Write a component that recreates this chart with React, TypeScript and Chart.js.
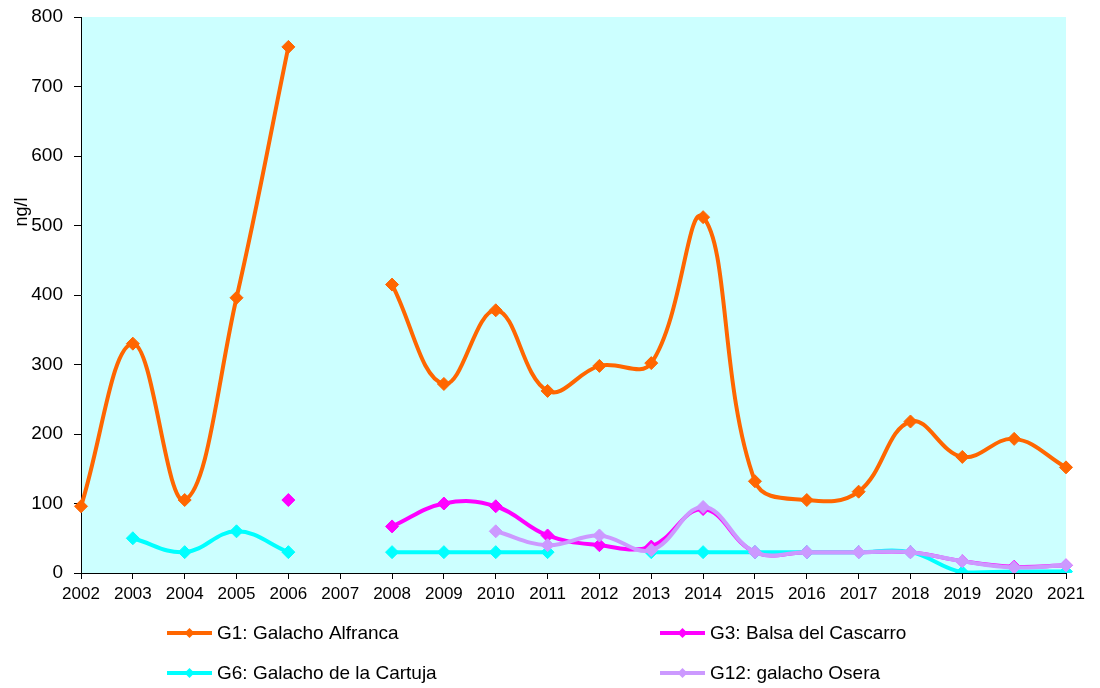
import React, { useEffect, useRef } from "react";
import { Chart, registerables } from "chart.js";

Chart.register(...registerables);

const years = ["2002","2003","2004","2005","2006","2007","2008","2009","2010","2011","2012","2013","2014","2015","2016","2017","2018","2019","2020","2021"];

const g1Alfranca = [96, 330, 105, 396, 757, null, 415, 272, 378, 262, 298, 302, 512, 132, 105, 117, 218, 167, 193, 152];
const g3Cascarro = [null, null, null, null, 105, null, 67, 100, 96, 54, 40, 38, 92, 30, 30, 30, 30, 17, 9, 11];
const g6Cartuja = [null, 50, 30, 60, 30, null, 30, 30, 30, 30, null, 30, 30, 30, 30, 30, 30, 1, 2, 2];
const g12Osera = [null, null, null, null, null, null, null, null, 60, 40, 54, 33, 95, 30, 30, 30, 30, 17, 8, 11];

const seriesNames = ["G1: Galacho Alfranca", "G3: Balsa del Cascarro", "G6: Galacho de la Cartuja", "G12: galacho Osera"];
const seriesColors = ["#FF6600", "#FF00FF", "#00FFFF", "#CC99FF"];
const yTitle = "ng/l";

const FONT = "'Liberation Sans', Arial, sans-serif";

const bgPlugin = {
  id: "plotBg",
  beforeDraw(chart: any) {
    const { ctx, chartArea } = chart;
    ctx.save();
    ctx.fillStyle = "#CCFFFF";
    ctx.fillRect(chartArea.left, chartArea.top, chartArea.right - chartArea.left, chartArea.bottom - chartArea.top);
    ctx.restore();
  },
};

const extrasPlugin = {
  id: "extras",
  afterDraw(chart: any) {
    const { ctx } = chart;
    ctx.save();
    // y axis title
    ctx.translate(22, 212);
    ctx.rotate(-Math.PI / 2);
    ctx.font = `18px ${FONT}`;
    ctx.fillStyle = "#000";
    ctx.textAlign = "center";
    ctx.textBaseline = "middle";
    ctx.fillText(yTitle, 0, 0);
    ctx.restore();

    // legend
    const pos = [
      { x: 167, y: 633 },
      { x: 660, y: 633 },
      { x: 167, y: 673 },
      { x: 660, y: 673 },
    ];
    chart.data.datasets.forEach((ds: any, i: number) => {
      const p = pos[i];
      ctx.save();
      ctx.strokeStyle = seriesColors[i];
      ctx.lineWidth = 4;
      ctx.beginPath();
      ctx.moveTo(p.x, p.y);
      ctx.lineTo(p.x + 45, p.y);
      ctx.stroke();
      const cx = p.x + 22.5;
      const r = 5;
      ctx.fillStyle = seriesColors[i];
      ctx.beginPath();
      ctx.moveTo(cx - r, p.y);
      ctx.lineTo(cx, p.y - r);
      ctx.lineTo(cx + r, p.y);
      ctx.lineTo(cx, p.y + r);
      ctx.closePath();
      ctx.fill();
      ctx.font = `19px ${FONT}`;
      ctx.fillStyle = "#000";
      ctx.textAlign = "left";
      ctx.textBaseline = "middle";
      ctx.fillText(ds.label, p.x + 50, p.y + 1);
      ctx.restore();
    });
  },
};

export default function App() {
  const ref = useRef<HTMLCanvasElement | null>(null);
  useEffect(() => {
    if (!ref.current) return;
    const arrays = [g1Alfranca, g3Cascarro, g6Cartuja, g12Osera];
    const orders = [3, 2, 1, 0];
    const chart = new Chart(ref.current, {
      type: "line",
      data: {
        labels: years,
        datasets: arrays.map((d, i) => ({
          label: seriesNames[i],
          data: d,
          borderColor: seriesColors[i],
          backgroundColor: seriesColors[i],
          borderWidth: 4,
          pointStyle: "rectRot",
          pointRadius: 6.5,
          pointBorderWidth: 1,
          pointHoverRadius: 6.5,
          tension: 0.4,
          spanGaps: false,
          fill: false,
          order: orders[i],
        })),
      },
      options: {
        responsive: false,
        animation: false,
        devicePixelRatio: 1,
        events: [],
        layout: { padding: { top: 17, right: 34, left: 0, bottom: 0 } },
        plugins: {
          legend: { display: false },
          tooltip: { enabled: false },
          title: { display: false },
        },
        scales: {
          x: {
            offset: false,
            grid: { display: true, drawOnChartArea: false, drawTicks: true, tickLength: 6, color: "#000", tickColor: "#000" },
            border: { display: true, color: "#000", width: 1 },
            ticks: { autoSkip: false, maxRotation: 0, minRotation: 0, color: "#000", padding: 5, font: { family: FONT, size: 17 } },
            afterFit: (s: any) => { s.height = 115; s.paddingRight = 0; },
          },
          y: {
            min: 0,
            max: 800,
            grid: { display: true, drawOnChartArea: false, drawTicks: true, tickLength: 7, color: "#000", tickColor: "#000" },
            border: { display: true, color: "#000", width: 1 },
            ticks: { stepSize: 100, color: "#000", padding: 11, font: { family: FONT, size: 19 } },
            afterFit: (s: any) => { s.width = 81; s.paddingTop = 0; s.paddingBottom = 0; },
          },
        },
      },
      plugins: [bgPlugin, extrasPlugin],
    } as any);
    return () => chart.destroy();
  }, []);
  return (
    <div style={{ position: "absolute", left: 0, top: 0, width: 1100, height: 688, background: "#fff" }}>
      <canvas ref={ref} width={1100} height={688} style={{ display: "block" }} />
    </div>
  );
}
